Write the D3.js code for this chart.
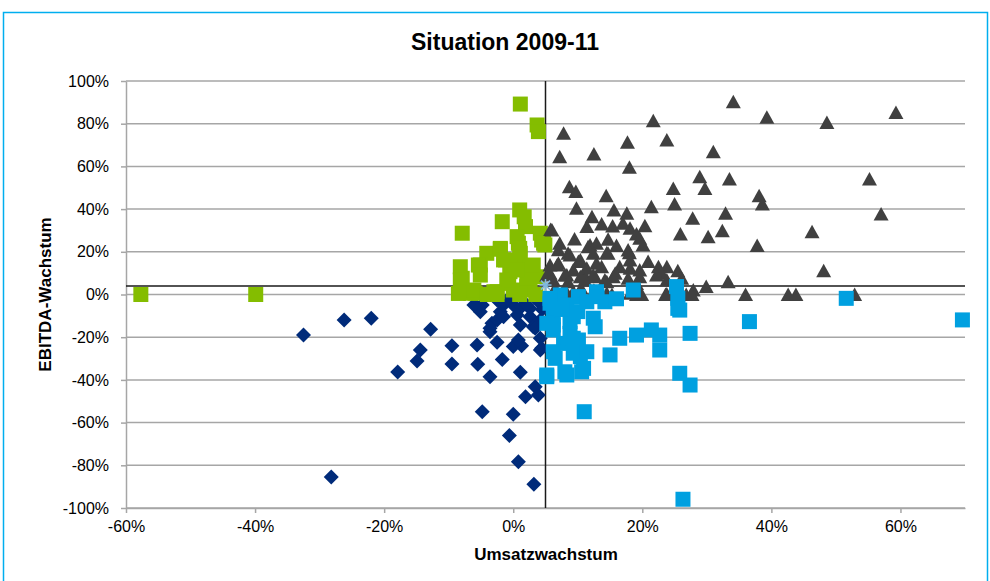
<!DOCTYPE html>
<html><head><meta charset="utf-8">
<script src="https://cdn.jsdelivr.net/npm/d3@7"></script>
<style>
html,body{margin:0;padding:0;background:#fff;}
svg{display:block;font-family:"Liberation Sans",Arial,sans-serif;}
</style></head>
<body><svg id="c" width="990" height="581"></svg>
<script>
const title = "Situation 2009-11";
const xTitle = "Umsatzwachstum";
const yTitle = "EBITDA-Wachstum";
const xTicks = [-60,-40,-20,0,20,40,60];
const yTicks = [-100,-80,-60,-40,-20,0,20,40,60,80,100];
const refX = 5;   // vertical reference line (x %)
const refY = 4;   // horizontal reference line (y %)
const centerPoint = [[5,4.4]];

// navy diamonds: sales down / EBITDA down
const navy = [[-32.5,-19],[-26.2,-11.9],[-22,-11.1],[-12.8,-16.3],[-14.4,-26],[-14.9,-31.1],[-17.9,-36.3],
[-9.5,-24],[-9.5,-32.6],[-5.6,-23.7],[-5.5,-32.7],[-2.5,-22.4],[-1.7,-30.4],[-3.6,-38.5],[-4.8,-54.9],
[0,-56.1],[-0.6,-66.1],[0.8,-78.3],[3.2,-88.9],[-28.2,-85.5],[1.1,-36.4],[0,-24.4],[1.3,-24],[0.8,-21.3],
[4.2,-26],[1.9,-47.9],[3.4,-43.2],[3.9,-47.1],[-5.6,-5.7],[-4.8,-4.9],[-2,-8.1],[-3.3,-13.5],[-3.6,-17.4],
[-2.5,-11.9],[0,-4.9],[1.3,-5.7],[2.6,-6.5],[2.6,-10.4],[3.1,-15.1],[4.2,-11.9],[-2.5,-2.6],[-5.1,-8.1],
[-3.6,-15.8],[-1.5,-10.4],[0.6,-9.6],[3.4,-15.8],[4.4,-25.2],[4.2,-20.5],[-6.1,-4.9],[-1.5,-4.9],[2.1,-4.9],
[1.1,-14.3],[3.8,-3],[4.5,-7],[-0.8,-2]];

// green squares: sales down / EBITDA up
const green = [[-57.7,0],[-39.9,0],[1.1,89.2],[3.7,79.4],[3.9,76.3],[-7.9,28.7],[1,39.6],[1.9,31.8],[-1.7,34.1],
[4.4,25.5],[4.9,23.2],[0.8,24],[1.1,19.3],[-2,21.2],[-4.1,19.3],[-8.2,13],[-7.9,7.6],[-5.1,13.8],[-0.5,10.7],
[2.6,11.5],[3.7,8.3],[-5.9,0.6],[-2.5,1.3],[0,2.1],[2.6,2.1],[-1.2,16.2],[0.6,14.6],[-0.7,5.2],[2.1,3.7],
[1.7,36.4],[4.2,28.7],[4.7,24],[-2,21.6],[0.6,27.1],[1,21.6],[-5.4,13.8],[-0.5,13],[2.6,13],[-1,6.8],[2.1,7.6],
[-6.6,0.6],[-3,1.3],[-8.2,6.8],[-5.1,9.1],[-6.1,2.1],[-1.5,16.2],[0.6,11.5],[3.1,13.8],[-2.5,0],[-4,0],[1,0],[3.5,0],[-8.5,0.5]];

// grey triangles: sales up / EBITDA up
const grey = [[34.1,90.3],[21.7,81.4],[7.8,75.5],[17.7,71.3],[23.8,72.4],[7.2,64.5],[12.5,65.8],[18,59.6],
[31,66.9],[28.9,55.2],[33.5,54.1],[29.7,49.7],[8.7,50.5],[9.7,48.2],[14.4,46.3],[24.8,49.7],[25,42.4],[9.8,40.4],
[21.4,41.1],[15.6,39.6],[17.6,38],[12.2,36.4],[27.8,35.7],[32.9,38],[32.4,29.9],[30.2,27.1],[25.9,28.3],[5.8,30.5],
[11.4,31.8],[13.7,33],[15.4,32.1],[18.1,31],[20.4,32.2],[19.1,28.3],[7.2,24],[11.9,23.2],[14.7,25.9],[20.1,23.2],
[8.5,19.3],[14.5,19.6],[18,19.6],[20.9,15.4],[10.1,15.4],[12.9,14.6],[6.8,13.8],[22.5,13],[23.8,13],[25.5,11.1],
[18.1,12.3],[15.8,9.9],[5.7,9.9],[8.3,9.1],[10.9,9.9],[12.7,8.3],[14.2,6.8],[19.6,8.3],[23,9.9],[29.9,3.7],
[33.3,6],[36,0],[27.7,0],[23.6,0],[19.1,0],[15.3,0],[9.3,1.3],[39.3,83],[48.6,80.6],[59.3,85.3],[55.2,54.1],
[38.1,46.3],[38.6,42.4],[57,37.7],[46.3,29.4],[37.8,22.9],[48.1,11.1],[42.6,0],[43.8,0],[52.9,0],
[6,30.2],[17,33.4],[11.6,22.4],[12.9,24],[19.6,26.3],[8.8,18.5],[10.4,16.2],[12.4,19.3],[14.7,19.3],[17.8,20.8],
[18.1,16.2],[5.7,13.8],[7,14.6],[9.3,11.5],[11.4,12.3],[13.7,13],[16.5,13],[19.6,11.5],[5.2,9.1],[8,9.1],[10.4,8.3],
[12.4,9.1],[15.5,8.3],[17.8,7.6],[22.2,9.1],[6.2,6.8],[8.5,6],[11.1,6.8],[14.5,6],[19.1,5.2],[23.8,6.8],[26.1,7.6],
[27.9,2.1],[26.8,0],[14.5,0.6],[18.1,0.6],[23.8,0.2],[19.9,0],[27.6,0],[6.5,3],[8,2.5],[10.5,3],[12.5,2],[7,21],[9.5,26],[16,23]];

// light blue squares: sales up / EBITDA down
const blue = [[18.6,2.1],[25.3,3.7],[25.5,-1.8],[25.8,-7.3],[14.2,-3.4],[12.9,1.3],[10.1,-1],[7.3,-0.2],[5.7,-4.1],
[6.2,-10.4],[6.2,-16.6],[9.3,-10.4],[12.7,-15.1],[10.1,-21.3],[36.6,-12.7],[21.4,-16.6],[19.1,-19],[16.5,-20.5],
[22.7,-19],[22.7,-26],[27.4,-18.2],[15,-28.3],[6.5,-29.9],[8,-36.2],[10.6,-36.2],[10.4,-29.1],[5.2,-38.5],
[25.8,-36.9],[27.4,-42.4],[11,-54.9],[26.3,-95.9],[7.8,-22.9],[9.3,-27.5],[8.8,-18.2],[5.2,-13.5],[69.6,-11.9],
[51.6,-1.8],[25.5,-6.5],[5.7,-1.8],[8.3,-4.9],[11.4,-3.4],[6.2,-14.3],[8.8,-12.7],[12.4,-11.1],[9.3,-20.5],
[6.2,-26.8],[11.4,-26.8],[5.2,-37.7],[8.3,-37.7],[10.9,-34.6],[7.5,-7],[10,-8],[13,-1],[16,-2]];

const svg = d3.select("#c");
const m = {left:126, right:965, top:81, bottom:508};

// outer frame
svg.append("rect").attr("x",3.5).attr("y",12.5).attr("width",984).attr("height",600)
  .attr("fill","none").attr("stroke","#00aeef").attr("stroke-width",1.5);

const x = d3.scaleLinear().domain([-60,70]).range([m.left,m.right]);
const y = d3.scaleLinear().domain([-100,100]).range([m.bottom,m.top]);

// gridlines
svg.append("g").selectAll("line").data(yTicks).join("line")
  .attr("x1",m.left).attr("x2",m.right).attr("y1",d=>y(d)).attr("y2",d=>y(d))
  .attr("stroke","#a6a6a6").attr("stroke-width",1.5);

// axes
const fmt = d=>d+"%";
const xAxis = svg.append("g").attr("transform",`translate(0,${m.bottom})`)
  .call(d3.axisBottom(x).tickValues(xTicks).tickFormat(fmt).tickSizeInner(5).tickSizeOuter(0));
const yAxis = svg.append("g").attr("transform",`translate(${m.left},0)`)
  .call(d3.axisLeft(y).tickValues(yTicks).tickFormat(fmt).tickSizeInner(5).tickSizeOuter(0));
[xAxis,yAxis].forEach(g=>{
  g.selectAll("path,line").attr("stroke","#a6a6a6").attr("stroke-width",1.5);
  g.selectAll("text").attr("fill","#000").style("font-size","16px").style("font-family","'Liberation Sans',Arial,sans-serif");
});
xAxis.selectAll("text").attr("y",13).attr("dy","0.71em");
yAxis.selectAll("text").attr("x",-17);

// reference lines
svg.append("line").attr("x1",m.left).attr("x2",m.right).attr("y1",y(refY)).attr("y2",y(refY))
  .attr("stroke","#1a1a1a").attr("stroke-width",1.5);
svg.append("line").attr("x1",x(refX)).attr("x2",x(refX)).attr("y1",m.top).attr("y2",m.bottom)
  .attr("stroke","#1a1a1a").attr("stroke-width",1.5);

// markers
const plot = svg.append("g");
plot.append("g").selectAll("path").data(navy).join("path")
  .attr("d","M0,-7.5L7.5,0L0,7.5L-7.5,0Z")
  .attr("transform",d=>`translate(${x(d[0])},${y(d[1])})`).attr("fill","#002b7a");
plot.append("g").selectAll("rect").data(green).join("rect")
  .attr("x",d=>x(d[0])-7.5).attr("y",d=>y(d[1])-7.5).attr("width",15).attr("height",15)
  .attr("fill","#84bd00");
plot.append("g").selectAll("path").data(grey).join("path")
  .attr("d","M0,-7L7.5,6.5L-7.5,6.5Z")
  .attr("transform",d=>`translate(${x(d[0])},${y(d[1])})`).attr("fill","#404040");
plot.append("g").selectAll("rect").data(blue).join("rect")
  .attr("x",d=>x(d[0])-7.5).attr("y",d=>y(d[1])-7.5).attr("width",15).attr("height",15)
  .attr("fill","#00a0e0");
plot.append("g").selectAll("path").data(centerPoint).join("path")
  .attr("d","M-6,0L6,0M0,-6L0,6M-4.5,-4.5L4.5,4.5M-4.5,4.5L4.5,-4.5")
  .attr("transform",d=>`translate(${x(d[0])},${y(d[1])})`)
  .attr("stroke","#7fb8dc").attr("stroke-width",1.5).attr("fill","none");

// titles
svg.append("text").attr("x",505).attr("y",50).attr("text-anchor","middle")
  .style("font-size","23px").style("font-weight","bold").text(title);
svg.append("text").attr("x",546).attr("y",560).attr("text-anchor","middle")
  .style("font-size","17px").style("font-weight","bold").text(xTitle);
svg.append("text").attr("transform",`translate(51,${(m.top+m.bottom)/2}) rotate(-90)`).attr("text-anchor","middle")
  .style("font-size","17px").style("font-weight","bold").text(yTitle);
</script></body></html>
